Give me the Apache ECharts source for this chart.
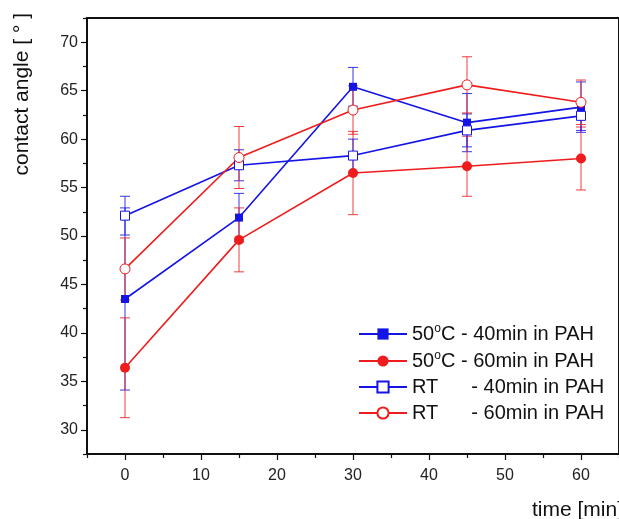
<!DOCTYPE html>
<html>
<head>
<meta charset="utf-8">
<script src="https://cdn.jsdelivr.net/npm/echarts@6/dist/echarts.min.js"></script>
<style>html,body{margin:0;padding:0;background:#fff}#c{width:619px;height:519px}</style>
</head>
<body>
<div id="c"></div>
<script>
// ---- data ----
var times = [0, 15, 30, 45, 60];
var s50_40 = [43.5, 51.9, 65.4, 61.7, 63.3];
var s50_40_err = [9.4, 2.5, 2.0, 3.0, 2.6];
var s50_60 = [36.4, 49.6, 56.5, 57.2, 58.0];
var s50_60_err = [5.15, 3.3, 4.3, 3.1, 3.25];
var rt40 = [52.1, 57.3, 58.3, 60.9, 62.4];
var rt40_err = [2.0, 1.6, 1.7, 1.7, 1.5];
var rt60 = [46.6, 58.1, 63.0, 65.6, 63.8];
var rt60_err = [3.2, 3.2, 2.5, 2.9, 2.3];
var seriesNames = ['50°C - 40min in PAH', '50°C - 60min in PAH', 'RT - 40min in PAH', 'RT - 60min in PAH'];
var yLabelValues = [30, 35, 40, 45, 50, 55, 60, 65, 70];
var yMinorValues = [27.5, 32.5, 37.5, 42.5, 47.5, 52.5, 57.5, 62.5, 67.5, 72.5];
var xLabelValues = [0, 10, 20, 30, 40, 50, 60];
var xMinorValues = [-5, 5, 15, 25, 35, 45, 55, 65];

var BLUE = '#1414e6', RED = '#ee1c1c';
var FONT = '"Liberation Sans", Arial, sans-serif';

function pairs(vals) { return times.map(function (t, i) { return [t, vals[i]]; }); }
function errData(vals, errs) { return times.map(function (t, i) { return [t, vals[i] - errs[i], vals[i] + errs[i]]; }); }
function errSeries(vals, errs, color) {
  return {
    type: 'custom', xAxisIndex: 0, yAxisIndex: 0, z: 1, silent: true,
    data: errData(vals, errs), encode: { x: 0, y: [1, 2] },
    renderItem: function (params, api) {
      var x = api.value(0), lo = api.value(1), hi = api.value(2);
      var p1 = api.coord([x, hi]), p2 = api.coord([x, lo]);
      var w = 5;
      var st = { stroke: color, lineWidth: 1, opacity: 0.85 };
      return { type: 'group', children: [
        { type: 'line', shape: { x1: p1[0], y1: p1[1], x2: p2[0], y2: p2[1] }, style: st },
        { type: 'line', shape: { x1: p1[0] - w, y1: p1[1], x2: p1[0] + w, y2: p1[1] }, style: st },
        { type: 'line', shape: { x1: p2[0] - w, y1: p2[1], x2: p2[0] + w, y2: p2[1] }, style: st }
      ]};
    }
  };
}

var chart = echarts.init(document.getElementById('c'));
var option = {
  backgroundColor: '#fff',
  animation: false,
  textStyle: { fontFamily: FONT },
  grid: { left: 87, right: -2, top: 18, bottom: 65, show: true, borderColor: '#111', borderWidth: 2, backgroundColor: 'transparent' },
  xAxis: [
    { type: 'value', min: -5, max: 65, position: 'bottom',
      axisLine: { show: true, onZero: false, lineStyle: { color: '#111', width: 2 } },
      axisTick: { show: true, inside: false, length: 6, customValues: xLabelValues, lineStyle: { color: '#111', width: 1.2 } },
      axisLabel: { customValues: xLabelValues, color: '#222', fontSize: 16, margin: 14, fontFamily: FONT },
      splitLine: { show: false } },
    { type: 'value', min: -5, max: 65, position: 'bottom',
      axisLine: { show: false, onZero: false },
      axisTick: { show: true, inside: false, length: 4, customValues: xMinorValues, lineStyle: { color: '#111', width: 1.2 } },
      axisLabel: { show: false }, splitLine: { show: false } }
  ],
  yAxis: [
    { type: 'value', min: 27.5, max: 72.5, position: 'left',
      axisLine: { show: true, onZero: false, lineStyle: { color: '#111', width: 2 } },
      axisTick: { show: true, inside: false, length: 6, customValues: yLabelValues, lineStyle: { color: '#111', width: 1.2 } },
      axisLabel: { customValues: yLabelValues, color: '#222', fontSize: 16, margin: 9, fontFamily: FONT },
      splitLine: { show: false } },
    { type: 'value', min: 27.5, max: 72.5, position: 'left',
      axisLine: { show: false, onZero: false },
      axisTick: { show: true, inside: false, length: 4, customValues: yMinorValues, lineStyle: { color: '#111', width: 1.2 } },
      axisLabel: { show: false }, splitLine: { show: false } }
  ],
  legend: {
    orient: 'vertical', left: 353, top: 318, itemWidth: 48, itemHeight: 14, itemGap: 6,
    data: seriesNames,
    textStyle: { fontSize: 20, color: '#111', fontFamily: FONT,
      rich: { sup: { fontSize: 12, verticalAlign: 'top', lineHeight: 12, padding: [0, 0, 8, 0], color: '#111', fontFamily: FONT },
              t: { fontSize: 20, lineHeight: 22, color: '#111', fontFamily: FONT },
              gap: { width: 33 } } },
    formatter: function (name) {
      if (name.indexOf('50°C') === 0) { return '{t|50}{sup|o}{t|C' + name.slice(4) + '}'; }
      return '{t|RT}{gap|}{t|' + name.slice(3) + '}';
    }
  },
  graphic: [
    { type: 'text', left: 12, top: 13, rotation: Math.PI / 2, style: { text: 'contact angle [ ° ]', fontSize: 21, fill: '#111', fontFamily: FONT } },
    { type: 'text', left: 532, top: 500, style: { text: 'time [min]', fontSize: 21, fill: '#111', fontFamily: FONT } }
  ],
  series: [
    errSeries(s50_40, s50_40_err, BLUE),
    errSeries(s50_60, s50_60_err, RED),
    errSeries(rt40, rt40_err, BLUE),
    errSeries(rt60, rt60_err, RED),
    { name: seriesNames[0], type: 'line', data: pairs(s50_40), symbol: 'rect', symbolSize: 8, z: 3,
      lineStyle: { color: BLUE, width: 1.6 }, itemStyle: { color: BLUE } },
    { name: seriesNames[1], type: 'line', data: pairs(s50_60), symbol: 'circle', symbolSize: 10, z: 3,
      lineStyle: { color: RED, width: 1.6 }, itemStyle: { color: RED } },
    { name: seriesNames[2], type: 'line', data: pairs(rt40), symbol: 'rect', symbolSize: 9, z: 3,
      lineStyle: { color: BLUE, width: 1.6 }, itemStyle: { color: '#fff', borderColor: BLUE, borderWidth: 1 } },
    { name: seriesNames[3], type: 'line', data: pairs(rt60), symbol: 'circle', symbolSize: 10, z: 3,
      lineStyle: { color: RED, width: 1.6 }, itemStyle: { color: '#fff', borderColor: RED, borderWidth: 1 } }
  ]
};
chart.setOption(option);
</script>
</body>
</html>
